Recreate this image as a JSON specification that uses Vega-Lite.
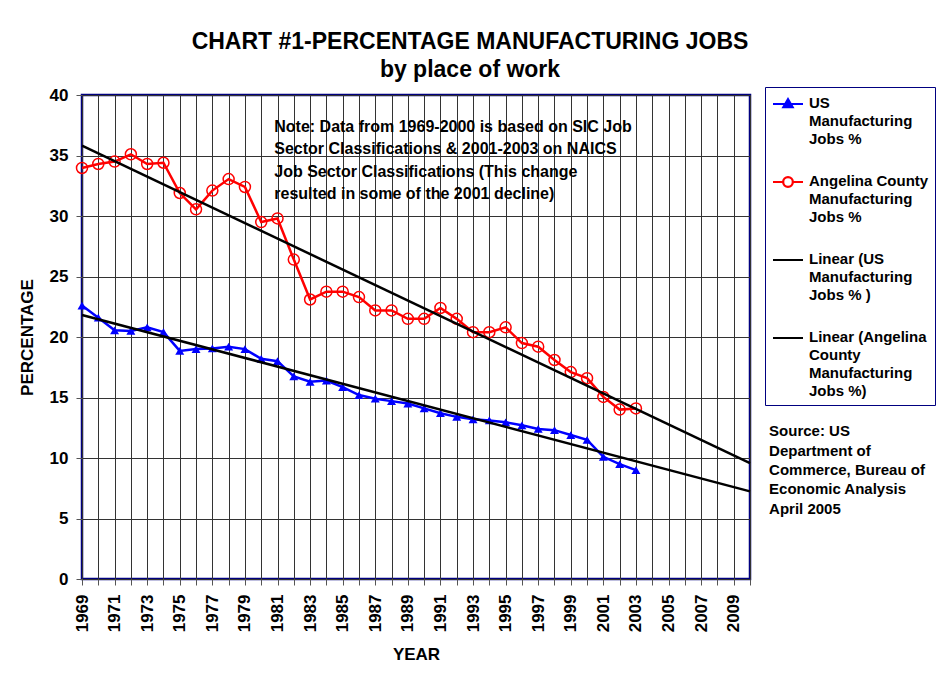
{
  "$schema": "https://vega.github.io/schema/vega-lite/v6.json",
  "width": 668,
  "height": 484,
  "autosize": "none",
  "padding": {"left": 82, "top": 95, "right": 187, "bottom": 94},
  "background": "white",
  "title": {
    "text": ["CHART #1-PERCENTAGE MANUFACTURING JOBS", "by place of work"],
    "font": "Liberation Sans",
    "fontSize": 23,
    "fontWeight": "bold",
    "lineHeight": 28,
    "anchor": "middle",
    "dx": 54,
    "offset": 4,
    "color": "black"
  },
  "config": {
    "view": {"stroke": "#000080", "strokeWidth": 2.5, "fill": "white"},
    "font": "Liberation Sans"
  },
  "data": {
    "values": [
      {"year": 1969, "value": 22.6, "series": "US Manufacturing Jobs %", "trend": "Linear (US Manufacturing Jobs % )"},
      {"year": 1970, "value": 21.6, "series": "US Manufacturing Jobs %", "trend": "Linear (US Manufacturing Jobs % )"},
      {"year": 1971, "value": 20.55, "series": "US Manufacturing Jobs %", "trend": "Linear (US Manufacturing Jobs % )"},
      {"year": 1972, "value": 20.5, "series": "US Manufacturing Jobs %", "trend": "Linear (US Manufacturing Jobs % )"},
      {"year": 1973, "value": 20.8, "series": "US Manufacturing Jobs %", "trend": "Linear (US Manufacturing Jobs % )"},
      {"year": 1974, "value": 20.4, "series": "US Manufacturing Jobs %", "trend": "Linear (US Manufacturing Jobs % )"},
      {"year": 1975, "value": 18.85, "series": "US Manufacturing Jobs %", "trend": "Linear (US Manufacturing Jobs % )"},
      {"year": 1976, "value": 19.0, "series": "US Manufacturing Jobs %", "trend": "Linear (US Manufacturing Jobs % )"},
      {"year": 1977, "value": 19.05, "series": "US Manufacturing Jobs %", "trend": "Linear (US Manufacturing Jobs % )"},
      {"year": 1978, "value": 19.2, "series": "US Manufacturing Jobs %", "trend": "Linear (US Manufacturing Jobs % )"},
      {"year": 1979, "value": 19.0, "series": "US Manufacturing Jobs %", "trend": "Linear (US Manufacturing Jobs % )"},
      {"year": 1980, "value": 18.2, "series": "US Manufacturing Jobs %", "trend": "Linear (US Manufacturing Jobs % )"},
      {"year": 1981, "value": 18.0, "series": "US Manufacturing Jobs %", "trend": "Linear (US Manufacturing Jobs % )"},
      {"year": 1982, "value": 16.75, "series": "US Manufacturing Jobs %", "trend": "Linear (US Manufacturing Jobs % )"},
      {"year": 1983, "value": 16.3, "series": "US Manufacturing Jobs %", "trend": "Linear (US Manufacturing Jobs % )"},
      {"year": 1984, "value": 16.4, "series": "US Manufacturing Jobs %", "trend": "Linear (US Manufacturing Jobs % )"},
      {"year": 1985, "value": 15.85, "series": "US Manufacturing Jobs %", "trend": "Linear (US Manufacturing Jobs % )"},
      {"year": 1986, "value": 15.2, "series": "US Manufacturing Jobs %", "trend": "Linear (US Manufacturing Jobs % )"},
      {"year": 1987, "value": 14.9, "series": "US Manufacturing Jobs %", "trend": "Linear (US Manufacturing Jobs % )"},
      {"year": 1988, "value": 14.7, "series": "US Manufacturing Jobs %", "trend": "Linear (US Manufacturing Jobs % )"},
      {"year": 1989, "value": 14.5, "series": "US Manufacturing Jobs %", "trend": "Linear (US Manufacturing Jobs % )"},
      {"year": 1990, "value": 14.1, "series": "US Manufacturing Jobs %", "trend": "Linear (US Manufacturing Jobs % )"},
      {"year": 1991, "value": 13.7, "series": "US Manufacturing Jobs %", "trend": "Linear (US Manufacturing Jobs % )"},
      {"year": 1992, "value": 13.4, "series": "US Manufacturing Jobs %", "trend": "Linear (US Manufacturing Jobs % )"},
      {"year": 1993, "value": 13.2, "series": "US Manufacturing Jobs %", "trend": "Linear (US Manufacturing Jobs % )"},
      {"year": 1994, "value": 13.1, "series": "US Manufacturing Jobs %", "trend": "Linear (US Manufacturing Jobs % )"},
      {"year": 1995, "value": 12.95, "series": "US Manufacturing Jobs %", "trend": "Linear (US Manufacturing Jobs % )"},
      {"year": 1996, "value": 12.7, "series": "US Manufacturing Jobs %", "trend": "Linear (US Manufacturing Jobs % )"},
      {"year": 1997, "value": 12.4, "series": "US Manufacturing Jobs %", "trend": "Linear (US Manufacturing Jobs % )"},
      {"year": 1998, "value": 12.3, "series": "US Manufacturing Jobs %", "trend": "Linear (US Manufacturing Jobs % )"},
      {"year": 1999, "value": 11.9, "series": "US Manufacturing Jobs %", "trend": "Linear (US Manufacturing Jobs % )"},
      {"year": 2000, "value": 11.5, "series": "US Manufacturing Jobs %", "trend": "Linear (US Manufacturing Jobs % )"},
      {"year": 2001, "value": 10.1, "series": "US Manufacturing Jobs %", "trend": "Linear (US Manufacturing Jobs % )"},
      {"year": 2002, "value": 9.5, "series": "US Manufacturing Jobs %", "trend": "Linear (US Manufacturing Jobs % )"},
      {"year": 2003, "value": 9.0, "series": "US Manufacturing Jobs %", "trend": "Linear (US Manufacturing Jobs % )"},
      {"year": 1969, "value": 33.97, "series": "Angelina County Manufacturing Jobs %", "trend": "Linear (Angelina County Manufacturing Jobs %)"},
      {"year": 1970, "value": 34.3, "series": "Angelina County Manufacturing Jobs %", "trend": "Linear (Angelina County Manufacturing Jobs %)"},
      {"year": 1971, "value": 34.5, "series": "Angelina County Manufacturing Jobs %", "trend": "Linear (Angelina County Manufacturing Jobs %)"},
      {"year": 1972, "value": 35.1, "series": "Angelina County Manufacturing Jobs %", "trend": "Linear (Angelina County Manufacturing Jobs %)"},
      {"year": 1973, "value": 34.3, "series": "Angelina County Manufacturing Jobs %", "trend": "Linear (Angelina County Manufacturing Jobs %)"},
      {"year": 1974, "value": 34.4, "series": "Angelina County Manufacturing Jobs %", "trend": "Linear (Angelina County Manufacturing Jobs %)"},
      {"year": 1975, "value": 31.9, "series": "Angelina County Manufacturing Jobs %", "trend": "Linear (Angelina County Manufacturing Jobs %)"},
      {"year": 1976, "value": 30.55, "series": "Angelina County Manufacturing Jobs %", "trend": "Linear (Angelina County Manufacturing Jobs %)"},
      {"year": 1977, "value": 32.1, "series": "Angelina County Manufacturing Jobs %", "trend": "Linear (Angelina County Manufacturing Jobs %)"},
      {"year": 1978, "value": 33.05, "series": "Angelina County Manufacturing Jobs %", "trend": "Linear (Angelina County Manufacturing Jobs %)"},
      {"year": 1979, "value": 32.4, "series": "Angelina County Manufacturing Jobs %", "trend": "Linear (Angelina County Manufacturing Jobs %)"},
      {"year": 1980, "value": 29.5, "series": "Angelina County Manufacturing Jobs %", "trend": "Linear (Angelina County Manufacturing Jobs %)"},
      {"year": 1981, "value": 29.8, "series": "Angelina County Manufacturing Jobs %", "trend": "Linear (Angelina County Manufacturing Jobs %)"},
      {"year": 1982, "value": 26.4, "series": "Angelina County Manufacturing Jobs %", "trend": "Linear (Angelina County Manufacturing Jobs %)"},
      {"year": 1983, "value": 23.1, "series": "Angelina County Manufacturing Jobs %", "trend": "Linear (Angelina County Manufacturing Jobs %)"},
      {"year": 1984, "value": 23.75, "series": "Angelina County Manufacturing Jobs %", "trend": "Linear (Angelina County Manufacturing Jobs %)"},
      {"year": 1985, "value": 23.75, "series": "Angelina County Manufacturing Jobs %", "trend": "Linear (Angelina County Manufacturing Jobs %)"},
      {"year": 1986, "value": 23.3, "series": "Angelina County Manufacturing Jobs %", "trend": "Linear (Angelina County Manufacturing Jobs %)"},
      {"year": 1987, "value": 22.2, "series": "Angelina County Manufacturing Jobs %", "trend": "Linear (Angelina County Manufacturing Jobs %)"},
      {"year": 1988, "value": 22.2, "series": "Angelina County Manufacturing Jobs %", "trend": "Linear (Angelina County Manufacturing Jobs %)"},
      {"year": 1989, "value": 21.5, "series": "Angelina County Manufacturing Jobs %", "trend": "Linear (Angelina County Manufacturing Jobs %)"},
      {"year": 1990, "value": 21.5, "series": "Angelina County Manufacturing Jobs %", "trend": "Linear (Angelina County Manufacturing Jobs %)"},
      {"year": 1991, "value": 22.4, "series": "Angelina County Manufacturing Jobs %", "trend": "Linear (Angelina County Manufacturing Jobs %)"},
      {"year": 1992, "value": 21.5, "series": "Angelina County Manufacturing Jobs %", "trend": "Linear (Angelina County Manufacturing Jobs %)"},
      {"year": 1993, "value": 20.4, "series": "Angelina County Manufacturing Jobs %", "trend": "Linear (Angelina County Manufacturing Jobs %)"},
      {"year": 1994, "value": 20.4, "series": "Angelina County Manufacturing Jobs %", "trend": "Linear (Angelina County Manufacturing Jobs %)"},
      {"year": 1995, "value": 20.8, "series": "Angelina County Manufacturing Jobs %", "trend": "Linear (Angelina County Manufacturing Jobs %)"},
      {"year": 1996, "value": 19.5, "series": "Angelina County Manufacturing Jobs %", "trend": "Linear (Angelina County Manufacturing Jobs %)"},
      {"year": 1997, "value": 19.2, "series": "Angelina County Manufacturing Jobs %", "trend": "Linear (Angelina County Manufacturing Jobs %)"},
      {"year": 1998, "value": 18.1, "series": "Angelina County Manufacturing Jobs %", "trend": "Linear (Angelina County Manufacturing Jobs %)"},
      {"year": 1999, "value": 17.1, "series": "Angelina County Manufacturing Jobs %", "trend": "Linear (Angelina County Manufacturing Jobs %)"},
      {"year": 2000, "value": 16.6, "series": "Angelina County Manufacturing Jobs %", "trend": "Linear (Angelina County Manufacturing Jobs %)"},
      {"year": 2001, "value": 15.05, "series": "Angelina County Manufacturing Jobs %", "trend": "Linear (Angelina County Manufacturing Jobs %)"},
      {"year": 2002, "value": 14.0, "series": "Angelina County Manufacturing Jobs %", "trend": "Linear (Angelina County Manufacturing Jobs %)"},
      {"year": 2003, "value": 14.1, "series": "Angelina County Manufacturing Jobs %", "trend": "Linear (Angelina County Manufacturing Jobs %)"}
    ]
  },
  "layer": [
    {
      "mark": {"type": "line", "strokeWidth": 2.5},
      "encoding": {
        "x": {
          "field": "year",
          "type": "quantitative",
          "scale": {"domain": [1969, 2010], "nice": false, "zero": false},
          "axis": {
            "title": "YEAR",
            "titleFont": "Liberation Sans",
            "titleFontSize": 17,
            "titleFontWeight": "bold",
            "titleColor": "black",
            "titlePadding": 15,
            "values": [1969, 1970, 1971, 1972, 1973, 1974, 1975, 1976, 1977, 1978, 1979, 1980, 1981, 1982, 1983, 1984, 1985, 1986, 1987, 1988, 1989, 1990, 1991, 1992, 1993, 1994, 1995, 1996, 1997, 1998, 1999, 2000, 2001, 2002, 2003, 2004, 2005, 2006, 2007, 2008, 2009, 2010],
            "tickCount": 42,
            "labelExpr": "(datum.value - 1969) % 2 === 0 ? '' + datum.value : ''",
            "labelAngle": -90,
            "labelFont": "Liberation Sans",
            "labelFontSize": 17,
            "labelFontWeight": "bold",
            "labelColor": "black",
            "labelPadding": 9,
            "labelOverlap": false,
            "labelFlush": false,
            "tickSize": 6,
            "tickColor": "#555555",
            "domain": false,
            "grid": true,
            "gridColor": "#333333",
            "gridWidth": 1
          }
        },
        "y": {
          "field": "value",
          "type": "quantitative",
          "scale": {"domain": [0, 40], "nice": false},
          "axis": {
            "title": "PERCENTAGE",
            "titleFont": "Liberation Sans",
            "titleFontSize": 17,
            "titleFontWeight": "bold",
            "titleColor": "black",
            "titlePadding": 13,
            "values": [0, 5, 10, 15, 20, 25, 30, 35, 40],
            "tickCount": 9,
            "labelFont": "Liberation Sans",
            "labelFontSize": 17,
            "labelFontWeight": "bold",
            "labelColor": "black",
            "labelPadding": 8,
            "labelOverlap": false,
            "tickSize": 6,
            "tickColor": "#555555",
            "domain": false,
            "grid": true,
            "gridColor": "#333333",
            "gridWidth": 1
          }
        },
        "color": {
          "field": "series",
          "type": "nominal",
          "scale": {
            "domain": ["US Manufacturing Jobs %", "Angelina County Manufacturing Jobs %", "Linear (US Manufacturing Jobs % )", "Linear (Angelina County Manufacturing Jobs %)"],
            "range": ["#0000FF", "#FF0000", "#000000", "#000000"]
          },
          "legend": {
            "orient": "none",
            "legendX": 683,
            "legendY": -8,
            "direction": "vertical",
            "title": null,
            "strokeColor": "#000080",
            "padding": 6,
            "fillColor": "white",
            "labelFont": "Liberation Sans",
            "labelFontSize": 15,
            "labelFontWeight": "bold",
            "labelColor": "black",
            "labelLimit": 300,
            "labelOffset": 10,
            "symbolOffset": 6,
            "labelBaseline": "top",
            "rowPadding": 24,
            "symbolSize": 400,
            "symbolStrokeWidth": 2,
            "labelExpr": "datum.value === 'US Manufacturing Jobs %' ? ['US', 'Manufacturing', 'Jobs %'] : datum.value === 'Angelina County Manufacturing Jobs %' ? ['Angelina County', 'Manufacturing', 'Jobs %'] : datum.value === 'Linear (US Manufacturing Jobs % )' ? ['Linear (US', 'Manufacturing', 'Jobs % )'] : ['Linear (Angelina', 'County', 'Manufacturing', 'Jobs %)']",
            "encode": {
              "labels": {"update": {"dy": {"value": -8}, "lineHeight": {"value": 18}}},
              "symbols": {
                "update": {
                  "shape": [
                    {"test": "datum.value === 'US Manufacturing Jobs %'", "value": "M-1.5,0H1.5M0,-0.5L0.48,0.33L-0.48,0.33Z"},
                    {"test": "datum.value === 'Angelina County Manufacturing Jobs %'", "value": "M-1.5,0H-0.5M0.5,0H1.5M-0.5,0A0.5,0.5 0 1,1 0.5,0A0.5,0.5 0 1,1 -0.5,0ZM-0.47,0A0.47,0.47 0 1,0 0.47,0A0.47,0.47 0 1,0 -0.47,0Z"},
                    {"value": "M-1.5,0H1.5"}
                  ],
                  "stroke": [
                    {"test": "datum.value === 'US Manufacturing Jobs %'", "value": "#0000FF"},
                    {"test": "datum.value === 'Angelina County Manufacturing Jobs %'", "value": "#FF0000"},
                    {"value": "#000000"}
                  ]
                }
              }
            }
          }
        }
      }
    },
    {
      "transform": [{"filter": "datum.series === 'US Manufacturing Jobs %'"}],
      "mark": {"type": "point", "shape": "triangle-up", "filled": true, "size": 80, "opacity": 1},
      "encoding": {
        "x": {"field": "year", "type": "quantitative"},
        "y": {"field": "value", "type": "quantitative"},
        "color": {"field": "series", "type": "nominal", "legend": null}
      }
    },
    {
      "transform": [{"filter": "datum.series === 'Angelina County Manufacturing Jobs %'"}],
      "mark": {"type": "point", "shape": "circle", "filled": false, "size": 121, "strokeWidth": 1.5, "opacity": 1},
      "encoding": {
        "x": {"field": "year", "type": "quantitative"},
        "y": {"field": "value", "type": "quantitative"},
        "color": {"field": "series", "type": "nominal", "legend": null}
      }
    },
    {
      "transform": [{"regression": "value", "on": "year", "groupby": ["trend"], "extent": [1969, 2010]}],
      "mark": {"type": "line", "strokeWidth": 2.5},
      "encoding": {
        "x": {"field": "year", "type": "quantitative"},
        "y": {"field": "value", "type": "quantitative"},
        "color": {"field": "trend", "type": "nominal", "legend": null}
      }
    },
    {
      "data": {"values": [{"note": "Note: Data from 1969-2000 is based on SIC Job|Sector Classifications & 2001-2003 on NAICS|Job Sector Classifications (This change|resulted in some of the 2001 decline)"}]},
      "mark": {"type": "text", "align": "left", "baseline": "top", "font": "Liberation Sans", "fontSize": 16, "fontWeight": "bold", "lineHeight": 22.5, "fill": "black", "lineBreak": "|"},
      "encoding": {
        "x": {"datum": 1980.8, "type": "quantitative"},
        "y": {"datum": 38.05, "type": "quantitative"},
        "text": {"field": "note", "type": "nominal"}
      }
    },
    {
      "data": {"values": [{"source": "Source: US|Department  of|Commerce, Bureau of|Economic Analysis|April  2005"}]},
      "mark": {"type": "text", "align": "left", "baseline": "top", "font": "Liberation Sans", "fontSize": 15, "fontWeight": "bold", "lineHeight": 19.4, "fill": "black", "lineBreak": "|"},
      "encoding": {
        "x": {"datum": 2011.17, "type": "quantitative"},
        "y": {"datum": 12.8, "type": "quantitative"},
        "text": {"field": "source", "type": "nominal"}
      }
    }
  ]
}
